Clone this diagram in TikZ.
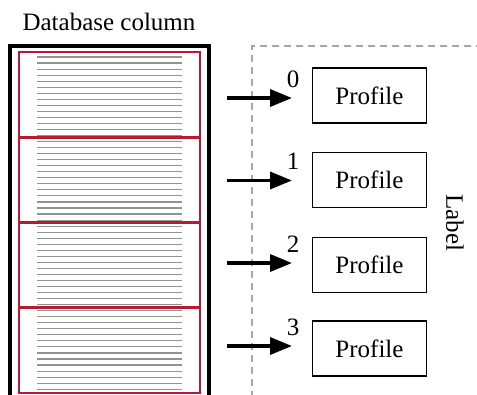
\documentclass[tikz,border=0pt]{standalone}
\usepackage{fontspec}
\setmainfont{Liberation Serif}
\usetikzlibrary{arrows.meta}
\definecolor{segred}{RGB}{185,25,50}
\begin{document}
\begin{tikzpicture}[x=1pt,y=-1pt,
  txt/.style={font=\fontsize{25}{30}\selectfont, inner sep=0pt},
  profile/.style={draw, line width=1.2pt, minimum width=114pt, minimum height=55pt,
    inner sep=0pt, font=\fontsize{25}{30}\selectfont},
  feed/.style={line width=3.5pt, -{Triangle[length=22pt,width=17pt]}},
  segment/.style={draw=segred, line width=1.8pt},
  row/.style={draw=gray!85, line width=1.1pt},
  frame/.style={draw=gray!70, line width=1.2pt, dash pattern=on 7pt off 5pt}]
\clip (0,0) rectangle (477,394);

% column title
\node[txt] (title) at (109,22) {Database column};

% text rows of the column
\foreach \i in {0,...,55}
  \draw[row] (37,57+6.04*\i) -- (182,57+6.04*\i);

% four segments of the column (neighbouring edges sit side by side)
\foreach \i in {0,...,3}
  \draw[segment] (19,52+85*\i) rectangle (200,138+85*\i);

% outer column frame
\draw[line width=3.5pt] (10,46) rectangle (209,410);

% label region
\draw[frame] (252,410) -- (252,46) -- (490,46);
\node[txt, rotate=-90] (lbl) at (455,223) {Label};

% profiles with their indices
\foreach \i/\y/\py in {0/98/95.5, 1/180.5/180, 2/263/265, 3/346/348.5} {
  \coordinate (s\i) at (227,\y);
  \coordinate (t\i) at (292,\y);
  \draw[feed] (s\i) -- (t\i);
  \node[txt] (n\i) at (293,\y-19) {\i};
  \node[profile] (p\i) at (369.5,\py) {Profile};
}
\end{tikzpicture}
\end{document}
